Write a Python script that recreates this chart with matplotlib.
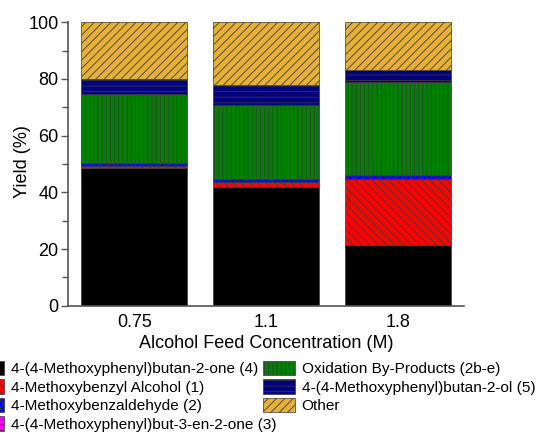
import matplotlib
matplotlib.use("Agg")
import matplotlib.pyplot as plt
import numpy as np
from matplotlib.ticker import MultipleLocator

plt.rcParams['font.family'] = ['Liberation Sans', 'DejaVu Sans']

categories = ["0.75", "1.1", "1.8"]
series_names = [
    "4-(4-Methoxyphenyl)butan-2-one (4)",
    "4-Methoxybenzyl Alcohol (1)",
    "4-Methoxybenzaldehyde (2)",
    "4-(4-Methoxyphenyl)but-3-en-2-one (3)",
    "Oxidation By-Products (2b-e)",
    "4-(4-Methoxyphenyl)butan-2-ol (5)",
    "Other",
]
ketone_4 = [48.5, 42.0, 21.3]
alcohol_1 = [0.9, 1.65, 23.4]
aldehyde_2 = [0.95, 0.95, 1.3]
enone_3 = [0.0, 0.0, 0.0]
oxidation = [24.35, 26.1, 32.8]
butanol_5 = [5.4, 7.3, 4.4]
other = [19.9, 22.0, 16.8]

series = [ketone_4, alcohol_1, aldehyde_2, enone_3, oxidation, butanol_5, other]
colors = ['#000000', '#FF0000', '#0000FF', '#FF00FF', '#008000', '#000080', '#E8B035']
hatches = [None, '\\\\\\\\', 'xxxx', '---', '||||', '---', '////']
hatch_lw = [0.5, 0.6, 0.6, 0.6, 0.5, 0.6, 0.6]

fig = plt.figure(figsize=(5.4, 4.33), dpi=100)
ax = fig.add_axes([68.3/540, 1-305.7/433, (464-68.3)/540, (305.7-22.3)/433])

x = np.arange(len(categories))
bottom = np.zeros(len(categories))
handles = []
for name, vals, c, h, hl in zip(series_names, series, colors, hatches, hatch_lw):
    plt.rcParams['hatch.linewidth'] = hl
    vals = np.array(vals)
    b = ax.bar(x, vals, width=0.8, bottom=bottom, color=c, edgecolor='#3a3a3a',
               linewidth=0.5, hatch=h, label=name)
    handles.append(b)
    bottom = bottom + vals

ax.set_xlim(-0.5, 2.5)
ax.set_ylim(0, 100)
ax.set_xticks(x)
ax.set_xticklabels(categories)
ax.yaxis.set_major_locator(MultipleLocator(20))
ax.yaxis.set_minor_locator(MultipleLocator(10))
ax.tick_params(axis='x', length=0, labelsize=13, pad=6)
ax.tick_params(axis='y', which='major', length=5, width=1, color='#555555', labelsize=13, pad=2)
ax.tick_params(axis='y', which='minor', length=4, width=1, color='#555555')
for s in ['top', 'right']:
    ax.spines[s].set_visible(False)
for s in ['left', 'bottom']:
    ax.spines[s].set_color('#555555')
    ax.spines[s].set_linewidth(1.2)

ax.set_xlabel("Alcohol Feed Concentration (M)", fontsize=13, labelpad=3)
ylab = ax.set_ylabel("Yield (%)", fontsize=13)
ylab.set_va('center')
ax.yaxis.set_label_coords((22.5 - 68.3) / 395.7, (305.7 - 162) / 283.4)

leg_kw = dict(loc='upper left', frameon=False, fontsize=11.1, borderaxespad=0,
              borderpad=0, handlelength=2.1, handleheight=1.05, labelspacing=0.2,
              handletextpad=0.4)
leg1 = fig.legend(handles=handles[:4], labels=series_names[:4],
                  bbox_to_anchor=(-28/540, 1-361/433), **leg_kw)
leg2 = fig.legend(handles=handles[4:], labels=series_names[4:],
                  bbox_to_anchor=(263/540, 1-361/433), **leg_kw)

fig.savefig("out.png", dpi=100)
